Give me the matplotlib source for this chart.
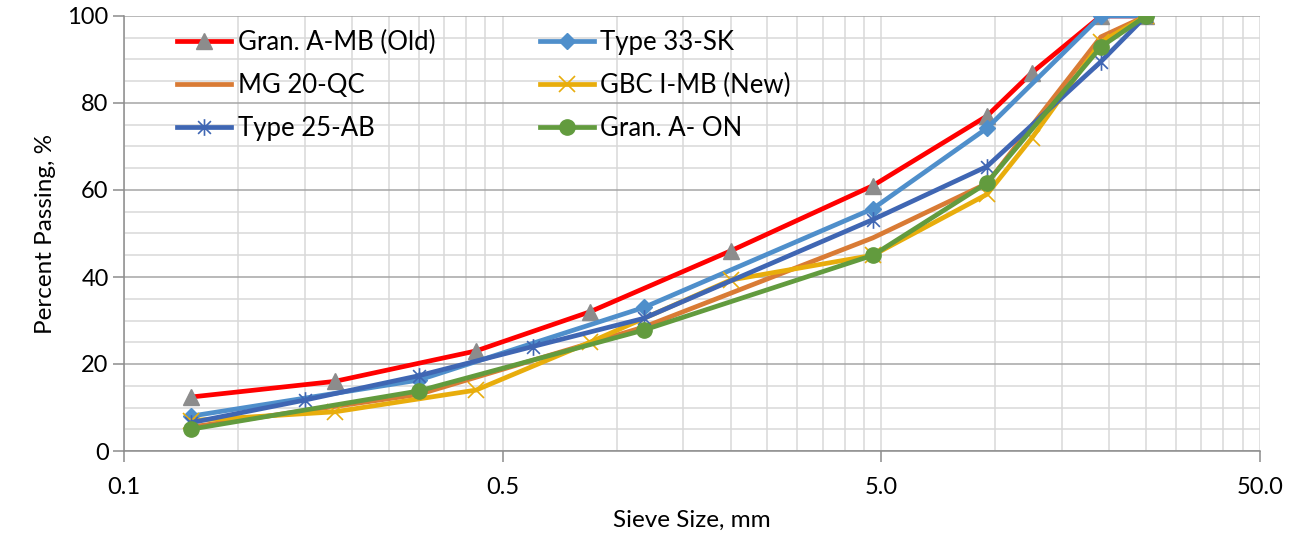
import numpy as np
import matplotlib
matplotlib.use("Agg")
import matplotlib.pyplot as plt
from matplotlib.path import Path
from matplotlib.ticker import FixedLocator, NullFormatter

plt.rcParams['font.family'] = ['Lato', 'DejaVu Sans']

# sieve sizes (mm) and percent passing
gran_mb_x = [0.075, 0.18, 0.425, 0.85, 2.0, 4.75, 9.5, 12.5, 19, 25]
gran_mb_y = [12.4, 16, 23, 32, 46, 61, 77, 87, 100, 100]

type33_x = [0.075, 0.3, 1.18, 4.75, 9.5, 19, 25]
type33_y = [8, 16.3, 33, 55.7, 74.2, 100, 100]

mg20_x = [0.075, 0.3, 1.18, 4.75, 9.5, 19, 25]
mg20_y = [5.5, 13, 28.5, 49, 61.5, 95.2, 100]

gbc_x = [0.075, 0.18, 0.425, 0.85, 2.0, 4.75, 9.5, 12.5, 19, 25]
gbc_y = [7, 9, 14, 25, 39.3, 45, 59, 72, 94, 100]

type25_x = [0.075, 0.15, 0.3, 0.6, 1.18, 4.75, 9.5, 19, 25]
type25_y = [6.5, 11.7, 17.3, 24, 30.5, 53.2, 65.4, 89.5, 100]

granon_x = [0.075, 0.3, 1.18, 4.75, 9.5, 19, 25]
granon_y = [5, 13.8, 27.8, 45, 61.6, 92.9, 100]

xtick_vals = [0.05, 0.5, 5, 50]
xtick_labels = ['0.1', '0.5', '5.0', '50.0']

# Excel style star: x plus vertical bar
star = Path([(-1, -1), (1, 1), (-1, 1), (1, -1), (0, -1.3), (0, 1.3)],
            [Path.MOVETO, Path.LINETO, Path.MOVETO, Path.LINETO, Path.MOVETO, Path.LINETO])

fig = plt.figure(figsize=(13.02, 5.33), dpi=100)
ax = fig.add_axes([124 / 1302, 1 - 451 / 533, (1260 - 124) / 1302, (451 - 16) / 533])

lw = 3.4
h1, = ax.plot(gran_mb_x, gran_mb_y, color='#FF0000', lw=lw, marker='^', ms=11,
              mfc='#8C8C8C', mec='#8C8C8C', label='Gran. A-MB (Old)', zorder=3)
h2, = ax.plot(type33_x, type33_y, color='#4F8FCB', lw=lw, marker='D', ms=8,
              mfc='#4F8FCB', mec='#4F8FCB', label='Type 33-SK', zorder=3)
h3, = ax.plot(mg20_x, mg20_y, color='#D97B35', lw=lw, label='MG 20-QC', zorder=3)
h4, = ax.plot(gbc_x, gbc_y, color='#E8AD0C', lw=lw, marker='x', ms=12, mew=1.2,
              mec='#E8AD0C', label='GBC I-MB (New)', zorder=3)
h5, = ax.plot(type25_x, type25_y, color='#3F66B3', lw=lw, marker=star, ms=12, mew=1.2,
              mfc='none', mec='#3F66B3', label='Type 25-AB', zorder=3)
h6, = ax.plot(granon_x, granon_y, color='#629B3E', lw=lw, marker='o', ms=11,
              mfc='#629B3E', mec='#629B3E', label='Gran. A- ON', zorder=3)

ax.set_xscale('log')
ax.set_xlim(0.05, 50)
ax.set_ylim(0, 100)

ax.xaxis.set_major_locator(FixedLocator(xtick_vals))
ax.set_xticklabels(xtick_labels)
minor_x = [m * d for d in [0.05, 0.5, 5] for m in range(2, 10)]
ax.xaxis.set_minor_locator(FixedLocator(minor_x))
ax.xaxis.set_minor_formatter(NullFormatter())
ax.set_yticks(np.arange(0, 101, 20))
ax.set_yticks(np.arange(0, 101, 5), minor=True)

ax.grid(which='minor', axis='both', color='#D9D9D9', lw=1.1, zorder=0)
ax.grid(which='major', axis='x', color='#D9D9D9', lw=1.1, zorder=0)
ax.grid(which='major', axis='y', color='#A6A6A6', lw=1.1, zorder=0)
ax.set_axisbelow(True)

for s in ['top', 'right']:
    ax.spines[s].set_visible(False)
ax.spines['left'].set_color('#8C8C8C')
ax.spines['bottom'].set_color('#8C8C8C')
ax.spines['left'].set_linewidth(1.1)
ax.spines['bottom'].set_linewidth(1.1)
ax.tick_params(which='major', length=8, width=1.1, color='#8C8C8C', labelsize=17,
               labelcolor='black')
ax.tick_params(which='minor', length=0)
ax.tick_params(axis='x', pad=11)
ax.tick_params(axis='y', pad=3)

ax.set_xlabel('Sieve Size, mm', fontsize=17.5, labelpad=8)
ax.set_ylabel('Percent Passing, %', fontsize=17.5, labelpad=8)

leg = ax.legend(handles=[h1, h3, h5, h2, h4, h6], ncol=2, loc='upper left',
                bbox_to_anchor=(0.031, 1.01), frameon=False, fontsize=18.5,
                handlelength=2.1, handletextpad=0.25, columnspacing=4.07,
                labelspacing=0.71, borderaxespad=0.3)

fig.savefig('out.png', dpi=100)
